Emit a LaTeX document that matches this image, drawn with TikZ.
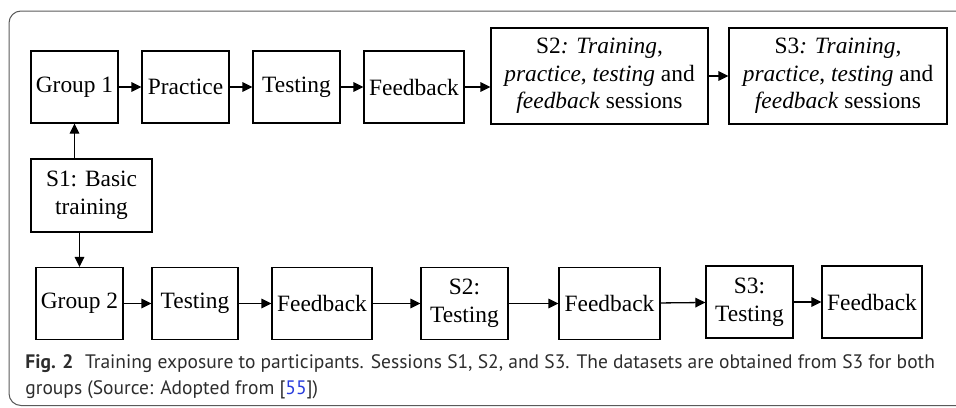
\documentclass[tikz,border=0pt]{standalone}
\usepackage{fontspec}
\setmainfont{Liberation Serif}
\newfontfamily\capfont{PT Sans}
\usetikzlibrary{arrows.meta}
\definecolor{captiongray}{RGB}{45,45,45}
\definecolor{linkblue}{RGB}{40,60,220}
\definecolor{framegray}{RGB}{90,90,90}
\begin{document}
\begin{tikzpicture}
[x=0.5pt,y=-0.5pt,
 boxdecorate/.style={shape=rectangle,draw,line width=0.65pt,inner sep=1pt,align=center,%
   font=\fontsize{11.7}{13.8}\selectfont,minimum height=36pt},
 arrowdecorate/.style={-{Triangle[length=5pt,width=4.8pt]},line width=0.65pt}]
\useasboundingbox (0,0) rectangle (956,407);
% frame
\draw[framegray,line width=0.5pt,rounded corners=6pt] (962,11) -- (9,11) -- (9,405.5) -- (962,405.5);
%%% group 1
% nodes or boxes
\node (group1) at (74.5,87) [boxdecorate,minimum width=43.5pt] {Group 1};
\node (practice1) at (185.5,87) [boxdecorate,minimum width=43.5pt] {Practice};
\node (testing1) at (296.5,87) [boxdecorate,minimum width=43.5pt] {Testing};
\node (feedback1) at (414,87) [boxdecorate,minimum width=50pt] {Feedback};
\node (stwo1) at (599.5,76) [boxdecorate,minimum width=108.5pt,minimum height=48pt]
  {S2\textit{: Training},\\\textit{practice}, \textit{testing} and\\\textit{feedback} sessions};
\node (sthree1) at (838,76) [boxdecorate,minimum width=109pt,minimum height=48pt]
  {S3\textit{: Training},\\\textit{practice}, \textit{testing} and\\\textit{feedback} sessions};
% basic training
\node (sone) at (91.5,195.5) [boxdecorate,minimum width=60.5pt,minimum height=36.5pt] {S1: Basic\\training};
% edges or arrows
\path
(group1) edge[arrowdecorate] (practice1)
(practice1) edge[arrowdecorate] (testing1)
(testing1) edge[arrowdecorate] (feedback1)
(feedback1) edge[arrowdecorate] (feedback1 -| stwo1.west)
(stwo1) edge[arrowdecorate] (sthree1)
(sone.north -| group1.south) edge[arrowdecorate] (group1.south);
%
%%% group 2
% nodes or boxes
\node (group2) at (79.5,303.5) [boxdecorate,minimum width=43.5pt] {Group 2};
\node (testing2) at (195,303.5) [boxdecorate,minimum width=43pt] {Testing};
\node (feedback2) at (322,303.5) [boxdecorate,minimum width=50pt] {Feedback};
\node (stwo2) at (464.5,303.5) [boxdecorate,minimum width=43.5pt] {S2:\\Testing};
\node (feedback3) at (609.5,303.5) [boxdecorate,minimum width=50.5pt] {Feedback};
\node (sthree2) at (749.5,302) [boxdecorate,minimum width=43.5pt] {S3:\\Testing};
\node (feedback4) at (872,302) [boxdecorate,minimum width=50pt] {Feedback};
% edges or arrows
\path
(sone.south -| group2.north) edge[arrowdecorate] (group2.north)
(group2) edge[arrowdecorate] (testing2)
(testing2) edge[arrowdecorate] (feedback2)
(feedback2) edge[arrowdecorate] (stwo2)
(stwo2) edge[arrowdecorate] (feedback3)
(feedback3) edge[arrowdecorate] (sthree2)
(sthree2) edge[arrowdecorate] (feedback4);
%
%%% caption
\node (caption) at (25,394) [anchor=base west,align=left,inner sep=0pt,text=captiongray,%
  font=\capfont\fontsize{9.75}{13}\selectfont]
  {\textbf{Fig. 2}\hspace{0.6em}Training exposure to participants. Sessions S1, S2, and S3. The datasets are obtained from S3 for both\\
   groups (Source: Adopted from [\textcolor{linkblue}{55}])};
\end{tikzpicture}
\end{document}
